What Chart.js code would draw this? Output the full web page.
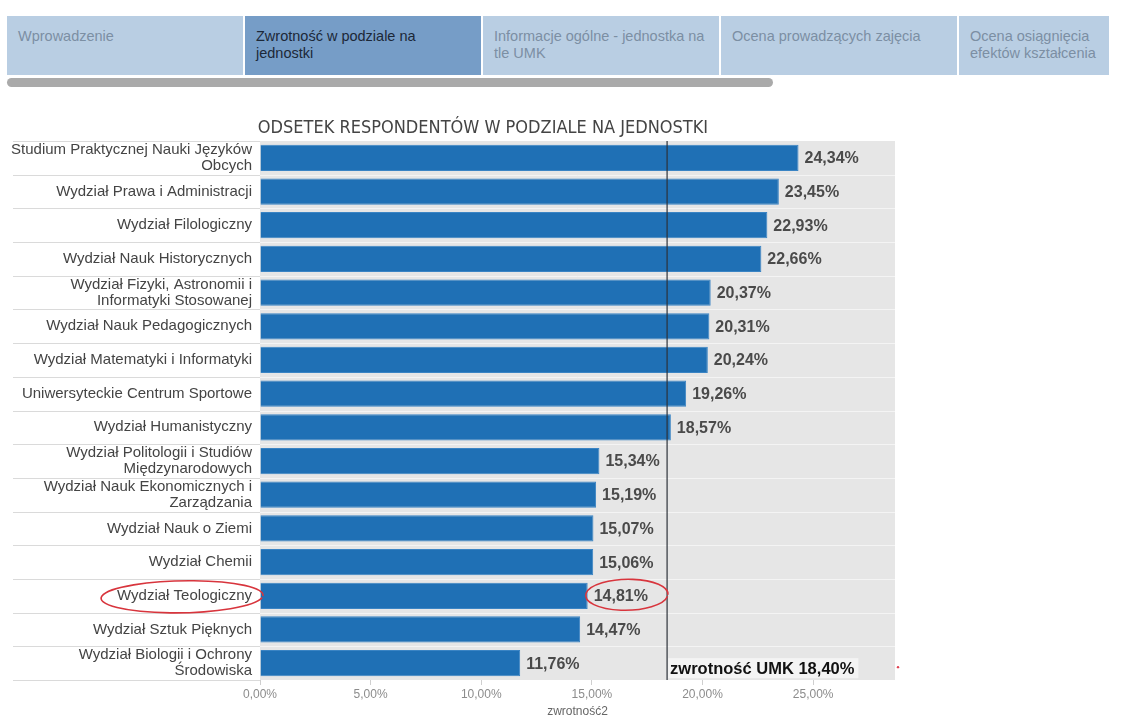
<!DOCTYPE html>
<html lang="pl">
<head>
<meta charset="utf-8">
<script src="https://cdn.jsdelivr.net/npm/chart.js@4.4.1/dist/chart.umd.min.js"></script>
<style>
  html, body { margin: 0; padding: 0; background: #fff; }
  body { width: 1123px; height: 716px; position: relative; overflow: hidden; font-family: "Liberation Sans", Arial, sans-serif; }
  #tabs { position: absolute; left: 7px; top: 16px; height: 59px; display: flex; }
  .tab { width: 236px; height: 59px; margin-right: 2px; background: #b9cee3; color: #7c8fa3;
         font-size: 14.5px; line-height: 17px; box-sizing: border-box; padding: 12px 11px 0 11px; }
  .tab.active { background: #769dc7; color: #1c2838; }
  .tab.last { width: 150px; }
  #scroll { position: absolute; left: 7px; top: 78px; width: 766px; height: 9px; border-radius: 5px; background: #aaaaaa; }
  #chart { position: absolute; left: 0; top: 0; }
</style>
</head>
<body>
<div id="tabs">
  <div class="tab">Wprowadzenie</div>
  <div class="tab active">Zwrotność w podziale na jednostki</div>
  <div class="tab">Informacje ogólne - jednostka na tle UMK</div>
  <div class="tab">Ocena prowadzących zajęcia</div>
  <div class="tab last">Ocena osiągnięcia efektów kształcenia</div>
</div>
<div id="scroll"></div>
<canvas id="chart" width="1123" height="716"></canvas>
<script>
const chartTitle = 'ODSETEK RESPONDENTÓW W PODZIALE NA JEDNOSTKI';
const units = [
  ['Studium Praktycznej Nauki Języków', 'Obcych'],
  'Wydział Prawa i Administracji',
  'Wydział Filologiczny',
  'Wydział Nauk Historycznych',
  ['Wydział Fizyki, Astronomii i', 'Informatyki Stosowanej'],
  'Wydział Nauk Pedagogicznych',
  'Wydział Matematyki i Informatyki',
  'Uniwersyteckie Centrum Sportowe',
  'Wydział Humanistyczny',
  ['Wydział Politologii i Studiów', 'Międzynarodowych'],
  ['Wydział Nauk Ekonomicznych i', 'Zarządzania'],
  'Wydział Nauk o Ziemi',
  'Wydział Chemii',
  'Wydział Teologiczny',
  'Wydział Sztuk Pięknych',
  ['Wydział Biologii i Ochrony', 'Środowiska']
];
const responseRate = [24.34, 23.45, 22.93, 22.66, 20.37, 20.31, 20.24, 19.26, 18.57,
                      15.34, 15.19, 15.07, 15.06, 14.81, 14.47, 11.76];
const umkRate = 18.40;
const umkLabel = 'zwrotność UMK 18,40%';
const highlighted = 13; // Wydział Teologiczny
const xMax = 28.7;
const xStep = 5;
const axisTitle = 'zwrotność2';

const pct = v => v.toFixed(2).replace('.', ',') + '%';

function ellipse(ctx, cx, cy, rx, ry) {
  ctx.beginPath();
  ctx.ellipse(cx, cy, rx, ry, -0.02, 0.15, Math.PI * 2 + 0.05);
  ctx.stroke();
}

const decor = {
  id: 'decor',
  beforeDatasetsDraw(chart) {
    const { ctx, chartArea: a } = chart;
    ctx.save();
    ctx.fillStyle = '#e6e6e6';
    ctx.fillRect(a.left, a.top, a.right - a.left, a.bottom - a.top);
    const n = units.length, h = (a.bottom - a.top) / n;
    for (let i = 0; i <= n; i++) {
      const y = Math.round(a.top + i * h) + 0.5;
      ctx.strokeStyle = '#dadada';
      ctx.lineWidth = 1;
      ctx.beginPath(); ctx.moveTo(13, y); ctx.lineTo(a.left, y); ctx.stroke();
      if (i > 0 && i < n) {
        ctx.strokeStyle = '#f4f4f4';
        ctx.beginPath(); ctx.moveTo(a.left, y); ctx.lineTo(a.right, y); ctx.stroke();
      }
    }
    ctx.restore();
  },
  afterDatasetsDraw(chart) {
    const { ctx, chartArea: a, scales: { x, y } } = chart;
    ctx.save();
    // value labels
    ctx.font = 'bold 16px "Liberation Sans", Arial, sans-serif';
    ctx.fillStyle = '#4a4a4a';
    ctx.textBaseline = 'middle';
    ctx.textAlign = 'left';
    responseRate.forEach((v, i) => {
      ctx.fillText(pct(v), x.getPixelForValue(v) + 6, y.getPixelForValue(i) + 1);
    });
    // UMK reference line
    const ux = x.getPixelForValue(umkRate);
    ctx.strokeStyle = 'rgba(45,50,58,0.8)';
    ctx.lineWidth = 1.5;
    ctx.beginPath(); ctx.moveTo(ux, a.top); ctx.lineTo(ux, a.bottom); ctx.stroke();
    // UMK label
    ctx.font = 'bold 16.5px "Liberation Sans", Arial, sans-serif';
    const lw = ctx.measureText(umkLabel).width;
    const ly = y.getPixelForValue(units.length - 1) + 5;
    ctx.fillStyle = 'rgba(245,245,245,0.9)';
    ctx.fillRect(ux + 1, ly - 10, lw + 6, 20);
    ctx.fillStyle = '#111';
    ctx.fillText(umkLabel, ux + 3, ly + 1);
    // title
    ctx.font = '18px "DejaVu Sans Condensed", "DejaVu Sans", sans-serif';
    ctx.fillStyle = '#444';
    ctx.textAlign = 'center';
    ctx.fillText(chartTitle, 483, a.top - 13);
    // red hand-drawn highlights
    const hy = y.getPixelForValue(highlighted);
    ctx.strokeStyle = '#d8353d';
    ctx.lineWidth = 1.6;
    ctx.font = '15px "Liberation Sans", Arial, sans-serif';
    const tw = ctx.measureText(units[highlighted]).width;
    const tr = a.left - 8;
    ellipse(ctx, (tr - tw - 16 + tr + 11) / 2, hy + 1, (tw + 27) / 2, 16);
    ctx.font = 'bold 16px "Liberation Sans", Arial, sans-serif';
    const vw = ctx.measureText(pct(responseRate[highlighted])).width;
    const vl = x.getPixelForValue(responseRate[highlighted]);
    ellipse(ctx, vl + (vw + 26) / 2 - 1, hy - 1, (vw + 28) / 2, 15.5);
    // stray red dot
    ctx.fillStyle = '#e04050';
    ctx.beginPath(); ctx.arc(a.right + 3, ly - 1, 1.2, 0, Math.PI * 2); ctx.fill();
    ctx.restore();
  }
};

new Chart(document.getElementById('chart'), {
  type: 'bar',
  data: {
    labels: units,
    datasets: [{
      data: responseRate,
      backgroundColor: '#1f70b5',
      borderColor: '#3a84c4',
      borderWidth: 1,
      categoryPercentage: 1,
      barPercentage: 0.78
    }]
  },
  options: {
    indexAxis: 'y',
    responsive: false,
    animation: false,
    layout: { padding: { top: 141, right: 228, left: 0, bottom: 0 } },
    plugins: { legend: { display: false }, tooltip: { enabled: false }, title: { display: false } },
    scales: {
      y: {
        grid: { display: false, drawTicks: false },
        border: { display: false },
        afterFit: s => { s.width = 260; },
        ticks: {
          autoSkip: false,
          padding: 8,
          color: '#444',
          font: { family: '"Liberation Sans", Arial, sans-serif', size: 15, lineHeight: 1.07 }
        }
      },
      x: {
        min: 0,
        max: xMax,
        grid: { drawOnChartArea: false, drawTicks: true, tickLength: 5, color: '#cfcfcf' },
        border: { display: false },
        afterFit: s => { s.height = 36; },
        ticks: {
          stepSize: xStep,
          includeBounds: false,
          padding: 2,
          color: '#8c8c8c',
          font: { family: '"Liberation Sans", Arial, sans-serif', size: 12 },
          callback: v => pct(v)
        },
        title: {
          display: true,
          text: axisTitle,
          color: '#666',
          padding: { top: 0, bottom: -3 },
          font: { family: '"Liberation Sans", Arial, sans-serif', size: 12 }
        }
      }
    }
  },
  plugins: [decor]
});
</script>
</body>
</html>
